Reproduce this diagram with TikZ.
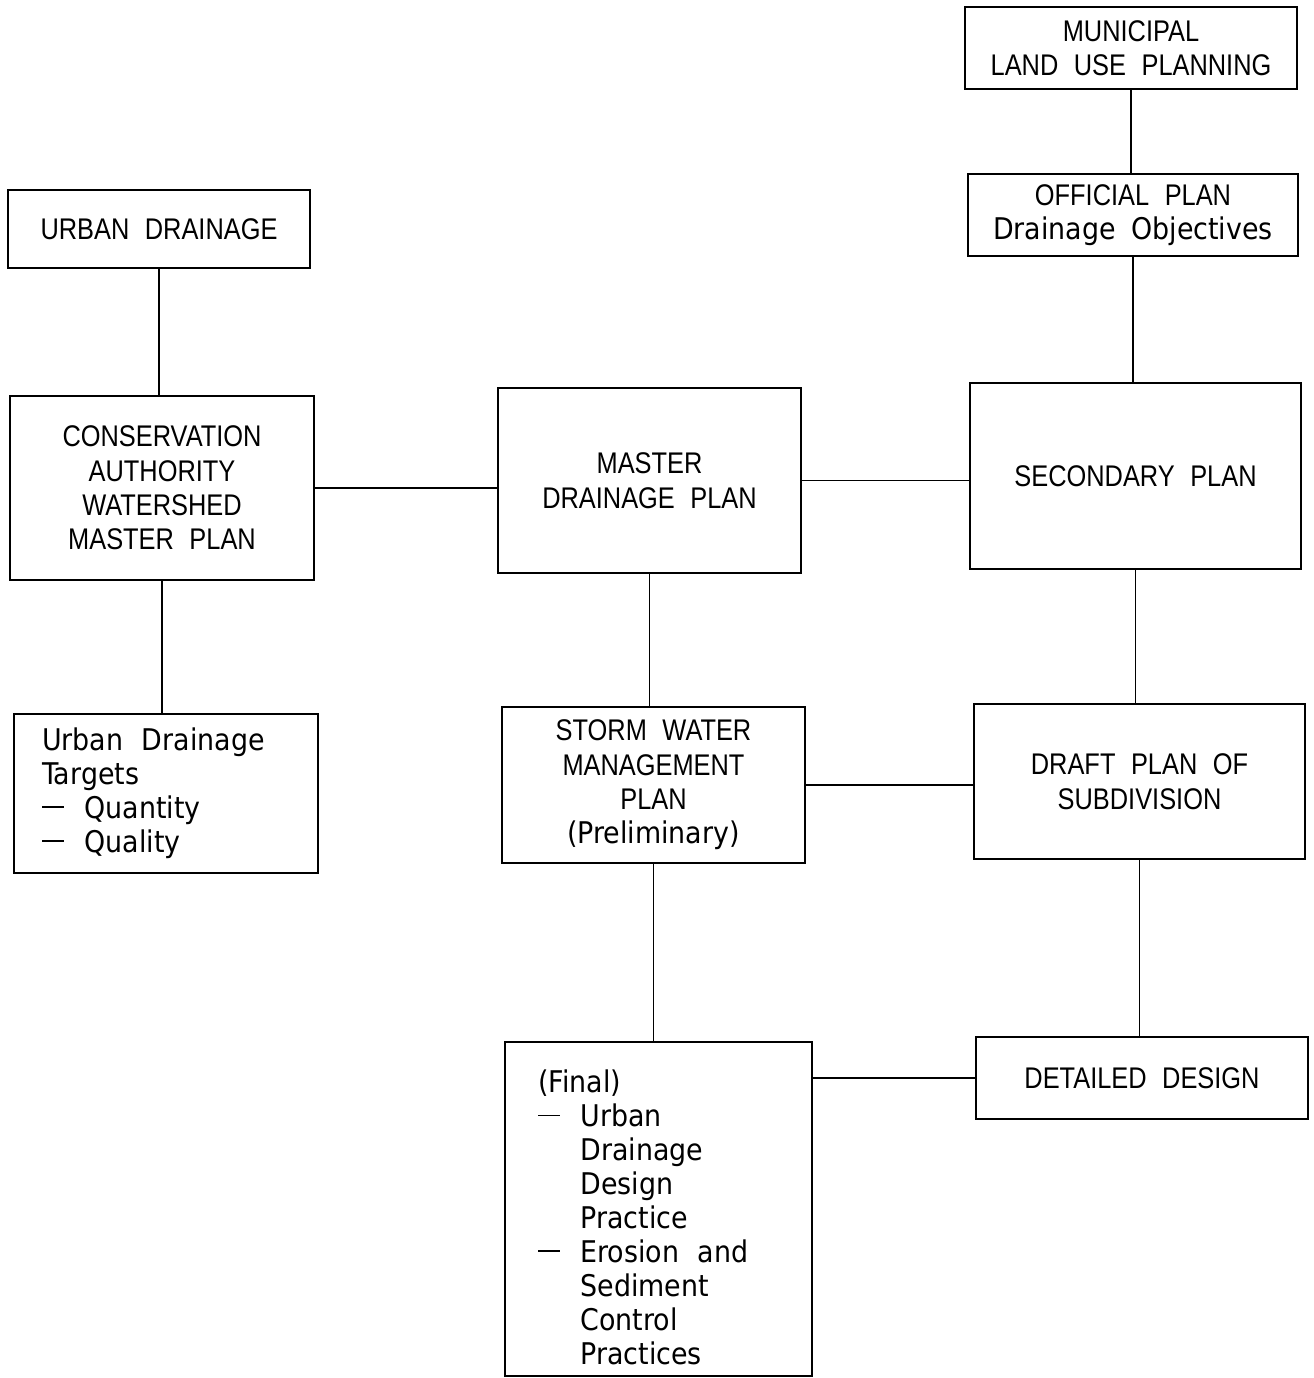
\documentclass[tikz,border=0pt]{standalone}
\usepackage{fontspec}
\setmainfont[FakeStretch=0.85,WordSpace=2.2]{Liberation Sans}
\newfontfamily\lcfont[FakeStretch=0.9,WordSpace=1.8]{DejaVu Sans}
\newcommand\dashit{\makebox[1.42em][l]{\rule[0.36em]{0.72em}{0.9pt}}}
\newcommand\indit{\hspace*{1.42em}}
\newcommand\wsp{\hspace{0.62em}}
\begin{document}
\begin{tikzpicture}[x=0.02cm,y=-0.02cm,
  box/.style={draw,line width=1pt,inner sep=0pt,align=center,
    font=\fontsize{17}{19.6}\selectfont},
  lbox/.style={draw,line width=1pt,inner ysep=0pt,align=left,
    font=\lcfont\fontsize{17}{19.3}\selectfont},
  link/.style={line width=1pt}]
\useasboundingbox (0,0) rectangle (1313,1378);
\node[box,minimum width=332*0.02cm,minimum height=82*0.02cm] (muni) at (1131,48) {MUNICIPAL\\LAND USE PLANNING};
\node[box,minimum width=330*0.02cm,minimum height=82*0.02cm] (off) at (1133,215) {OFFICIAL PLAN\\{\lcfont Drainage Objectives}};
\node[box,minimum width=302*0.02cm,minimum height=78*0.02cm] (ud) at (159,229) {URBAN DRAINAGE};
\node[box,minimum width=304*0.02cm,minimum height=184*0.02cm] (cons) at (162,488) {CONSERVATION\\AUTHORITY\\WATERSHED\\MASTER PLAN};
\node[box,minimum width=303*0.02cm,minimum height=185*0.02cm] (mdp) at (649.5,480.5) {MASTER\\DRAINAGE PLAN};
\node[box,minimum width=331*0.02cm,minimum height=186*0.02cm] (sec) at (1135.5,476) {SECONDARY PLAN};
\node[lbox,inner xsep=28*0.02cm,text width=248*0.02cm,minimum height=159*0.02cm] (tgt) at (166,793.5) {Urban\wsp Drainage\\Targets\\\dashit Quantity\\\dashit Quality};
\node[box,minimum width=303*0.02cm,minimum height=156*0.02cm] (swm) at (653.5,785) {STORM WATER\\MANAGEMENT\\PLAN\\{\lcfont (Preliminary)}};
\node[box,minimum width=331*0.02cm,minimum height=155*0.02cm] (dps) at (1139.5,781.5) {DRAFT PLAN OF\\SUBDIVISION};
\node[lbox,inner xsep=33*0.02cm,text width=241*0.02cm,minimum height=334*0.02cm] (fin) at (658.5,1209) {\rule{0pt}{22.5pt}(Final)\\\dashit Urban\\\indit Drainage\\\indit Design\\\indit Practice\\\dashit Erosion\wsp and\\\indit Sediment\\\indit Control\\\indit Practices};
\node[box,minimum width=332*0.02cm,minimum height=82*0.02cm] (dd) at (1142,1078) {DETAILED DESIGN};
\draw[link] (muni.south) -- (muni.south |- off.north);
\draw[link] (off.south) -- (off.south |- sec.north);
\draw[link] (ud.south) -- (ud.south |- cons.north);
\draw[link] (cons.south) -- (cons.south |- tgt.north);
\draw[link] (cons.east) -- (cons.east -| mdp.west);
\draw[link] (mdp.east) -- (mdp.east -| sec.west);
\draw[link] (mdp.south) -- (mdp.south |- swm.north);
\draw[link] (sec.south) -- (sec.south |- dps.north);
\draw[link] (swm.east) -- (swm.east -| dps.west);
\draw[link] (swm.south) -- (swm.south |- fin.north);
\draw[link] (dps.south) -- (dps.south |- dd.north);
\draw[link] (fin.east |- dd.west) -- (dd.west);
\end{tikzpicture}
\end{document}
